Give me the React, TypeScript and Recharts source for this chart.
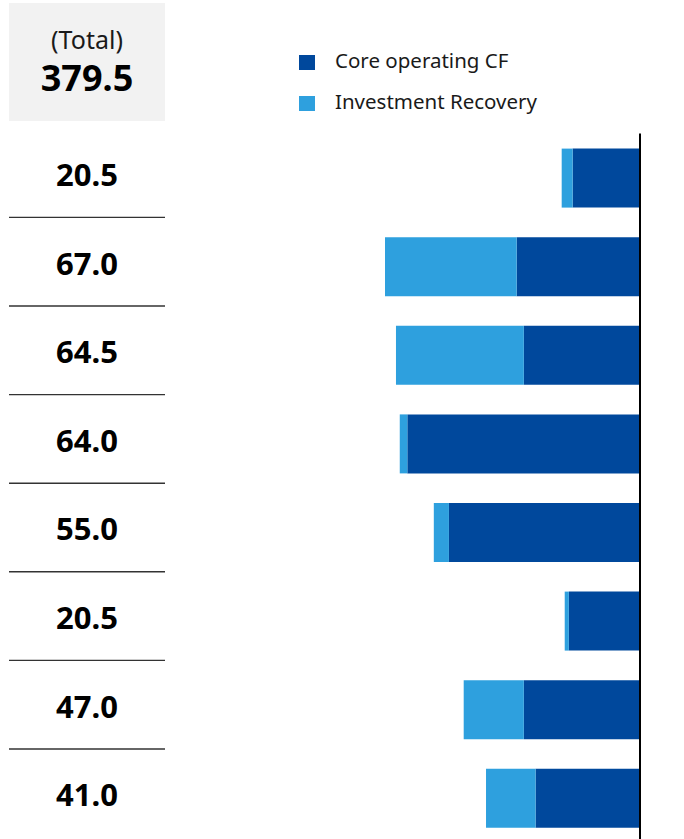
import React from 'react';
import { BarChart, Bar, XAxis, YAxis, Legend, ReferenceLine } from 'recharts';

const categories = ['Row 1', 'Row 2', 'Row 3', 'Row 4', 'Row 5', 'Row 6', 'Row 7', 'Row 8'];
const totals = [20.5, 67.0, 64.5, 64.0, 55.0, 20.5, 47.0, 41.0];
const coreCF = [17.8, 32.6, 30.7, 61.5, 50.5, 18.8, 30.7, 27.6];
const recovery = [2.9, 34.8, 33.8, 2.0, 4.0, 1.1, 15.9, 13.1];
const seriesNames = ['Core operating CF', 'Investment Recovery'];
const totalLabel = '(Total)';

const DARK = '#00489C';
const LIGHT = '#2EA0DE';
const FONT = '"Noto Sans", "Open Sans", sans-serif';

const data = categories.map((name, i) => ({
  name,
  core: coreCF[i],
  recovery: recovery[i],
  total: totals[i],
}));

const grandTotal = totals.reduce((a, b) => a + b, 0);

const LeftTick = (props: any) => {
  const { y, payload } = props;
  const i = categories.indexOf(payload.value);
  const cx = 87;
  return (
    <g>
      <text
        x={cx}
        y={y + 8}
        textAnchor="middle"
        fontFamily={FONT}
        fontWeight={700}
        fontSize={31}
        fill="#000"
      >
        {totals[i].toFixed(1)}
      </text>
      {i < categories.length - 1 && (
        <line x1={9} x2={165} y1={y + 39.5} y2={y + 39.5} stroke="#333" strokeWidth={1.4} />
      )}
    </g>
  );
};

const LegendContent = (props: any) => {
  const { payload } = props;
  return (
    <div style={{ position: 'relative', width: 300, height: 90 }}>
      {(payload || []).map((entry: any, i: number) => (
        <div key={i} style={{ position: 'absolute', left: 0, top: i * 41, height: 30, width: 300 }}>
          <div
            style={{
              position: 'absolute',
              left: 0,
              top: 9,
              width: 16,
              height: 15,
              background: entry.color,
            }}
          />
          <span
            style={{
              position: 'absolute',
              left: 36,
              top: 4,
              fontFamily: FONT,
              fontSize: 20.5,
              lineHeight: '20.5px',
              color: '#1a1a1a',
              whiteSpace: 'nowrap',
            }}
          >
            {entry.value}
          </span>
        </div>
      ))}
    </div>
  );
};

export default function App() {
  return (
    <div
      style={{
        position: 'absolute',
        left: 0,
        top: 0,
        width: 684,
        height: 839,
        overflow: 'hidden',
        background: '#fff',
      }}
    >
      <div
        style={{
          position: 'absolute',
          left: 9,
          top: 3,
          width: 156,
          height: 117.5,
          background: '#f2f2f2',
        }}
      >
        <span
          style={{
            position: 'absolute',
            left: 0,
            width: 156,
            top: 24,
            textAlign: 'center',
            fontFamily: FONT,
            fontSize: 25,
            lineHeight: '25px',
            color: '#1a1a1a',
          }}
        >
          {totalLabel}
        </span>
        <span
          style={{
            position: 'absolute',
            left: 0,
            width: 156,
            top: 57.3,
            textAlign: 'center',
            fontFamily: FONT,
            fontWeight: 700,
            fontSize: 36,
            lineHeight: '36px',
            color: '#000',
          }}
        >
          {grandTotal.toFixed(1)}
        </span>
      </div>
      <div style={{ position: 'absolute', left: 0, top: 0 }}>
        <BarChart
          width={684}
          height={845}
          data={data}
          layout="vertical"
          margin={{ top: 133.6, right: 44, bottom: 2.6, left: 0 }}
        >
          <XAxis type="number" domain={[0, 120]} reversed hide />
          <YAxis
            type="category"
            dataKey="name"
            width={186}
            axisLine={false}
            tickLine={false}
            interval={0}
            tick={<LeftTick />}
          />
          <Bar
            dataKey="core"
            name={seriesNames[0]}
            stackId="s"
            fill={DARK}
            barSize={59}
            isAnimationActive={false}
          />
          <Bar
            dataKey="recovery"
            name={seriesNames[1]}
            stackId="s"
            fill={LIGHT}
            barSize={59}
            isAnimationActive={false}
          />
          <ReferenceLine x={0} stroke="#000" strokeWidth={2} />
          <Legend
            layout="vertical"
            align="center"
            verticalAlign="middle"
            content={<LegendContent />}
            wrapperStyle={{ position: 'absolute', left: 299, top: 46, width: 300, height: 90 }}
          />
        </BarChart>
      </div>
    </div>
  );
}
